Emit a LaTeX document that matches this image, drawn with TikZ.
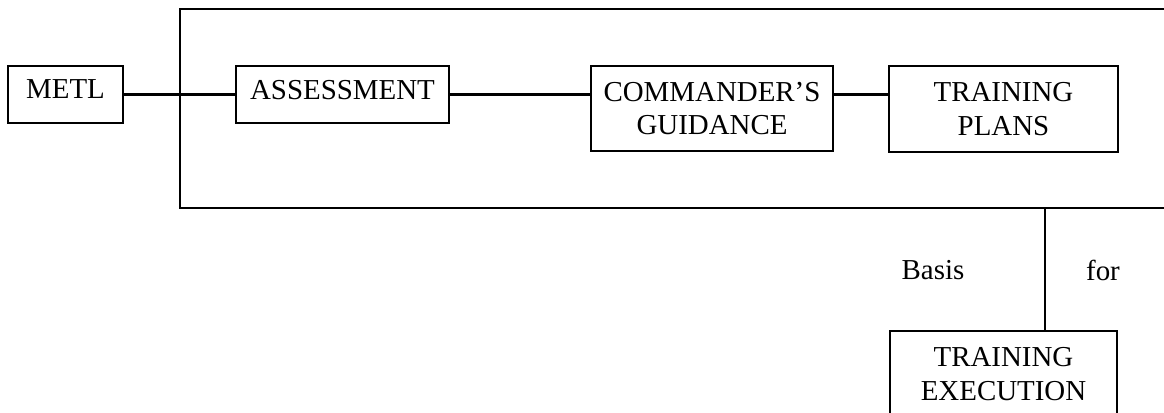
\documentclass[tikz,border=0pt]{standalone}
\usepackage{fontspec}
\setmainfont{Liberation Serif}
\newcommand{\px}{0.415pt}
\tikzset{
	every node/.style={font=\fontsize{12}{13.8}\selectfont},
	box/.style={draw, line width=0.9pt, align=center, inner sep=0pt},
	link/.style={line width=0.9pt},
}
\begin{document}
\begin{tikzpicture}[x=\px, y=-\px]
	\useasboundingbox (0,0) rectangle (1164,413);
	\clip (0,0) rectangle (1164,413);
	\coordinate (FrameNW) at (180,9);
	\coordinate (FrameSE) at (1200,208);
	\coordinate (Drop)    at (1045,208);
	\draw [link] (FrameNW) rectangle (FrameSE);% Draw the planning frame
	
	\node[box, minimum width=115*\px, minimum height=57*\px, text depth=4.2pt] (METL) at (65.5,94.5) {METL};
	\node[box, minimum width=213*\px, minimum height=57*\px, text depth=4.2pt] (Assess) at (342.5,94.5) {ASSESSMENT};
	\node[box, minimum width=242*\px, minimum height=85*\px] (Guidance) at (712,108.5) {COMMANDER’S\\GUIDANCE};
	\node[box, minimum width=229*\px, minimum height=86*\px] (Plans) at (1003.5,109) {TRAINING\\PLANS};
	\node[box, minimum width=227*\px, minimum height=86*\px] (Exec) at (1003.5,374) {TRAINING\\EXECUTION};
	
	\draw [link] (METL) -- (Assess);
	\draw [link] (Assess.east) -- (Assess.east -| Guidance.west);
	\draw [link] (Assess.east -| Guidance.east) -- (Assess.east -| Plans.west);
	\draw [link] (Drop) -- (Drop |- Exec.north);% Draw the link down to execution
	
	\node (Basis) at (933,270) {Basis};
	\node (For) at (1103,270) {for};
\end{tikzpicture}
\end{document}
